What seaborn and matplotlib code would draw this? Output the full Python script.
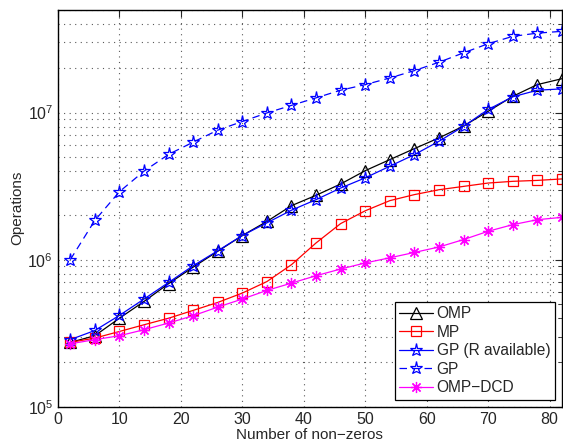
import numpy as np
import pandas as pd
import matplotlib
matplotlib.use("Agg")
import matplotlib.pyplot as plt
import seaborn as sns
from matplotlib.ticker import LogLocator, MultipleLocator, NullFormatter

# ====================
# DONNEES
# ====================

nnz = [2, 6, 10, 14, 18, 22, 26, 30, 34, 38, 42, 46, 50, 54, 58, 62, 66, 70, 74, 78, 82]

ops_omp = [2.74e5, 3.04e5, 4.0e5, 5.2e5, 6.87e5, 8.9e5, 1.14e6, 1.46e6, 1.82e6, 2.33e6, 2.74e6,
           3.27e6, 4.03e6, 4.79e6, 5.69e6, 6.73e6, 8.1e6, 1.02e7, 1.29e7, 1.55e7, 1.70e7]
ops_mp = [2.74e5, 2.93e5, 3.25e5, 3.61e5, 4.0e5, 4.52e5, 5.12e5, 5.93e5, 7.1e5, 9.25e5, 1.3e6,
          1.76e6, 2.15e6, 2.52e6, 2.77e6, 2.99e6, 3.15e6, 3.32e6, 3.41e6, 3.46e6, 3.54e6]
ops_gp_r = [2.86e5, 3.3e5, 4.18e5, 5.4e5, 7.0e5, 9.1e5, 1.15e6, 1.46e6, 1.78e6, 2.17e6, 2.56e6,
            3.07e6, 3.6e6, 4.32e6, 5.18e6, 6.38e6, 8.07e6, 1.05e7, 1.28e7, 1.42e7, 1.45e7]
ops_gp = [1.0e6, 1.85e6, 2.9e6, 4.0e6, 5.2e6, 6.3e6, 7.6e6, 8.7e6, 9.95e6, 1.12e7, 1.26e7,
          1.42e7, 1.55e7, 1.72e7, 1.93e7, 2.2e7, 2.55e7, 2.94e7, 3.3e7, 3.47e7, 3.57e7]
ops_dcd = [2.68e5, 2.86e5, 3.04e5, 3.34e5, 3.71e5, 4.16e5, 4.76e5, 5.4e5, 6.18e5, 6.93e5, 7.78e5,
           8.64e5, 9.5e5, 1.03e6, 1.12e6, 1.22e6, 1.37e6, 1.56e6, 1.73e6, 1.87e6, 1.94e6]

noms = ["OMP", "MP", "GP (R available)", "GP", "OMP\u2212DCD"]

# ====================
# STYLE
# ====================

sns.set_style("white")
plt.rcParams.update({
    "font.family": ["Liberation Sans", "DejaVu Sans"],
    "font.size": 10,
    "mathtext.fontset": "custom",
    "mathtext.rm": "Liberation Sans",
    "mathtext.it": "Liberation Sans:italic",
    "axes.edgecolor": "black",
    "axes.linewidth": 1.0,
    "legend.numpoints": 1,
})

fig = plt.figure(figsize=(5.63, 4.46), dpi=100)
ax = fig.add_axes([0.103, 0.088, 0.895, 0.89])

series = [
    (ops_omp, noms[0], "black", "^", "-", 9),
    (ops_mp, noms[1], "red", "s", "-", 7.5),
    (ops_gp_r, noms[2], "blue", "*", "-", 9.5),
    (ops_gp, noms[3], "blue", "*", "--", 9.5),
    (ops_dcd, noms[4], "magenta", (8, 2, 0), "-", 8),
]

for vals, nom, col, mk, ls, ms in series:
    df = pd.DataFrame({"nnz": nnz, "ops": vals})
    sns.lineplot(data=df, x="nnz", y="ops", ax=ax, color=col, linestyle=ls, lw=0.9,
                 marker=mk, markersize=ms, markerfacecolor="none", markeredgecolor=col,
                 markeredgewidth=0.9, label=nom)
    if ls == "--":
        ax.lines[-1].set_dashes([6, 4])

ax.set_yscale("log")
ax.set_xlim(0, 82)
ax.set_ylim(1e5, 5e7)
ax.xaxis.set_major_locator(MultipleLocator(10))
ax.yaxis.set_major_locator(LogLocator(base=10, numticks=10))
ax.yaxis.set_minor_locator(LogLocator(base=10, subs=np.arange(2, 10), numticks=20))
ax.yaxis.set_minor_formatter(NullFormatter())

ax.grid(True, which="major", axis="both", color="0.35", linestyle=(0, (1, 4)), lw=0.8)
ax.grid(True, which="minor", axis="y", color="0.35", linestyle=(0, (1, 4)), lw=0.8)
ax.tick_params(which="both", direction="in", top=True, right=True, labelsize=11.5)
ax.tick_params(which="major", length=5)
ax.tick_params(which="minor", length=3)

ax.set_xlabel("Number of non\u2212zeros", fontsize=11, labelpad=1)
ax.set_ylabel("Operations", fontsize=11, labelpad=2)

leg = ax.legend(loc="lower right", fontsize=11.2, frameon=True, fancybox=False,
                edgecolor="black", framealpha=1, borderaxespad=0.45,
                handlelength=2.2, handletextpad=0.2, labelspacing=0.22, borderpad=0.3)
leg.get_frame().set_linewidth(0.9)

fig.savefig("out.png", dpi=100)
